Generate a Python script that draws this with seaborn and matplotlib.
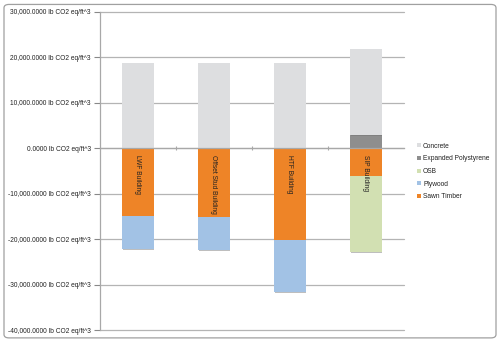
import matplotlib
matplotlib.use("Agg")
import matplotlib.pyplot as plt
import matplotlib.ticker as mticker
import matplotlib.patheffects as pe
from matplotlib.patches import FancyBboxPatch, Patch
from matplotlib import font_manager
import seaborn as sns
import pandas as pd

categories = ["LWF Building", "Offset Stud Building", "HTF Building", "SIP Building"]
concrete = [18800, 18800, 18800, 18800]
expanded_polystyrene = [0, 0, 0, 3000]
osb = [0, 0, 0, -16900]
plywood = [-7200, -7100, -11400, 0]
sawn_timber = [-15000, -15200, -20200, -6000]

colors = {
    "Concrete": "#DDDEE0",
    "Expanded Polystyrene": "#8E8E8E",
    "OSB": "#D2E0B2",
    "Plywood": "#A2C2E5",
    "Sawn Timber": "#EE8427",
}

df = pd.DataFrame({
    "building": categories,
    "Concrete": concrete,
    "Expanded Polystyrene": expanded_polystyrene,
    "OSB": osb,
    "Plywood": plywood,
    "Sawn Timber": sawn_timber,
})

sns.set_theme(style="white")
names = {f.name for f in font_manager.fontManager.ttflist}
narrow = "Liberation Sans Narrow" in names
plt.rcParams["font.family"] = (["Liberation Sans Narrow"] if narrow else ["Liberation Sans"]) + ["DejaVu Sans"]
fs = 5.9 if narrow else 4.8

fig = plt.figure(figsize=(5.0, 3.42), dpi=100)
ax = fig.add_axes([0.2, 0.035, 0.608, 0.93])

# stacked segments: positive stack and negative stack
layers = [
    ("Expanded Polystyrene", [0, 0, 0, 0]),
    ("Concrete", expanded_polystyrene),
    ("Sawn Timber", [0, 0, 0, 0]),
    ("Plywood", sawn_timber),
    ("OSB", sawn_timber),
]
for name, base in layers:
    sns.barplot(data=df, x="building", y=name, bottom=base, color=colors[name],
                width=0.41, ax=ax, saturation=1, linewidth=0, zorder=3)

shadow = [pe.SimplePatchShadow(offset=(0.6, -0.8), shadow_rgbFace="#707070", alpha=0.45),
          pe.Normal()]
for p in ax.patches:
    p.set_path_effects(shadow)

ax.set_ylim(-40000, 30000)
ax.set_xlim(-0.5, 3.5)
ax.yaxis.set_major_locator(mticker.MultipleLocator(10000))
ax.yaxis.set_major_formatter(
    mticker.FuncFormatter(lambda v, p: f"{v:,.4f} lb CO2 eq/ft^3"))
ax.tick_params(axis="y", labelsize=fs, colors="#222222", length=4,
               width=0.8, direction="out", pad=2.5, left=True, color="#888888")
ax.grid(axis="y", color="#B4B4B4", linewidth=0.9, zorder=0)
for gl in ax.get_ygridlines():
    gl.set_clip_on(False)
ax.set_xlabel("")
ax.set_ylabel("")

for side in ["top", "right"]:
    ax.spines[side].set_visible(False)
ax.spines["left"].set_color("#A8A8A8")
ax.spines["left"].set_linewidth(0.9)
ax.spines["bottom"].set_position(("data", 0))
ax.spines["bottom"].set_color("#A8A8A8")
ax.spines["bottom"].set_linewidth(0.9)
ax.spines["bottom"].set_zorder(4)
ax.set_xticks([0.5, 1.5, 2.5])
ax.set_xticklabels([])
ax.tick_params(axis="x", bottom=True, length=3, width=0.8, color="#A8A8A8",
               direction="inout")

# category names written downward inside the bars, just below zero
for i, name in enumerate(categories):
    ax.text(i, -1500, name, rotation=270, ha="center", va="top",
            fontsize=fs, color="#222222", zorder=5)

handles = [Patch(facecolor=colors[n], edgecolor="none") for n in
           ["Concrete", "Expanded Polystyrene", "OSB", "Plywood", "Sawn Timber"]]
fig.legend(handles, ["Concrete", "Expanded Polystyrene", "OSB", "Plywood", "Sawn Timber"],
           loc="upper left", bbox_to_anchor=(0.822, 0.6), frameon=False,
           fontsize=fs, handlelength=0.55, handleheight=0.55, handletextpad=0.35,
           labelspacing=0.85, labelcolor="#222222")

fig.patches.append(FancyBboxPatch((0.008, 0.012), 0.984, 0.975,
                                  boxstyle="round,pad=0,rounding_size=0.01",
                                  transform=fig.transFigure, facecolor="none",
                                  edgecolor="#A0A0A0", linewidth=0.9))

fig.savefig("out.png", dpi=100)
